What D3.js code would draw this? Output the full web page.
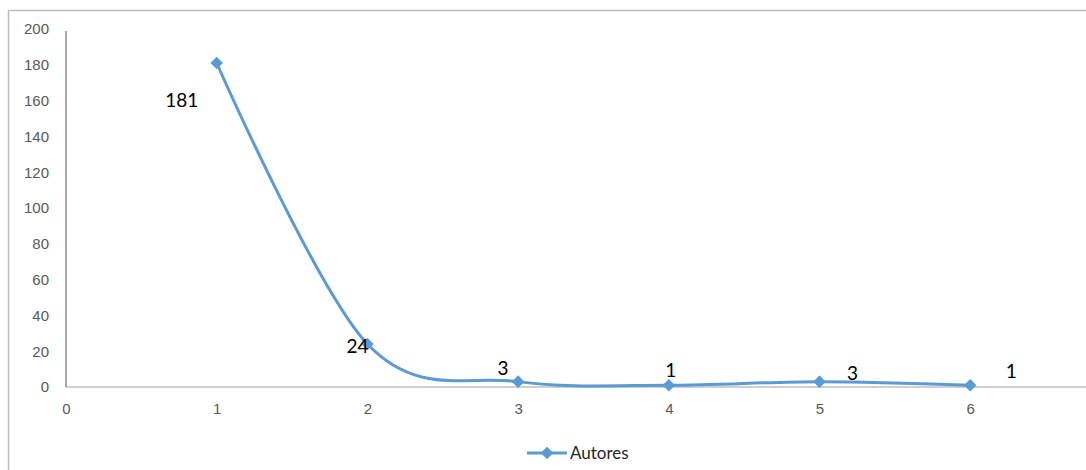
<!DOCTYPE html>
<html>
<head>
<meta charset="utf-8">
<script src="https://cdn.jsdelivr.net/npm/d3@7"></script>
<style>
  body { margin: 0; background: #fff; }
  svg { display: block; font-family: Lato, "Open Sans", sans-serif; }
</style>
</head>
<body>
<svg id="chart"></svg>
<script>
// data
const xValues = [1, 2, 3, 4, 5, 6];
const autores = [181, 24, 3, 1, 3, 1];
const labels = ["181", "24", "3", "1", "3", "1"];
const yTicks = [0, 20, 40, 60, 80, 100, 120, 140, 160, 180, 200];
const xTicks = [0, 1, 2, 3, 4, 5, 6];
const seriesName = "Autores";

// label offsets (Excel placement)
const labelOffsets = [[-35, 44], [-10, 9], [-15, -7], [2, -8], [33, -2], [41, -7]];

const width = 1086, height = 470;
const margin = {top: 29, left: 66, bottom: 387};
const blue = "#5B9BD5";

const svg = d3.select("#chart")
    .attr("width", width)
    .attr("height", height);

// outer chart border
svg.append("rect")
    .attr("x", 8.5).attr("y", 10.5)
    .attr("width", 1100).attr("height", 500)
    .attr("fill", "none")
    .attr("stroke", "#bdbdbd")
    .attr("stroke-width", 1.5);

const x = d3.scaleLinear()
    .domain([0, 7])
    .range([margin.left, margin.left + 7 * 150.7]);

const y = d3.scaleLinear()
    .domain([0, 200])
    .range([margin.bottom, margin.top]);

// x axis
const xAxis = svg.append("g")
    .attr("transform", `translate(0,${margin.bottom})`)
    .call(d3.axisBottom(x).tickValues(xTicks).tickSize(0).tickPadding(16).tickFormat(d3.format("d")));
xAxis.select(".domain").attr("stroke", "#cfcfcf").attr("stroke-width", 2)
    .attr("d", `M${margin.left},0H${width}`);
xAxis.selectAll("text").attr("fill", "#595959").style("font-size", "15px");

// y axis
const yAxis = svg.append("g")
    .attr("transform", `translate(${margin.left},0)`)
    .call(d3.axisLeft(y).tickValues(yTicks).tickSize(0).tickPadding(17));
yAxis.select(".domain").attr("stroke", "#8c8c8c").attr("stroke-width", 1.5)
    .attr("d", `M0,${y(200) + 2}V${margin.bottom}`);
yAxis.selectAll("text").attr("fill", "#595959").style("font-size", "15px");

const data = xValues.map((v, i) => ({x: v, y: autores[i], label: labels[i], off: labelOffsets[i]}));

const line = d3.line()
    .x(d => x(d.x))
    .y(d => y(d.y))
    .curve(d3.curveCatmullRom.alpha(0));

svg.append("path")
    .datum(data)
    .attr("fill", "none")
    .attr("stroke", blue)
    .attr("stroke-width", 3)
    .attr("d", line);

const diamond = d3.symbol().type(d3.symbolDiamond2).size(100);

svg.selectAll(".marker")
    .data(data)
    .join("path")
    .attr("class", "marker")
    .attr("transform", d => `translate(${x(d.x)},${y(d.y)})`)
    .attr("d", diamond)
    .attr("fill", blue);

svg.selectAll(".dlabel")
    .data(data)
    .join("text")
    .attr("class", "dlabel")
    .attr("x", d => x(d.x) + d.off[0])
    .attr("y", d => y(d.y) + d.off[1])
    .attr("text-anchor", "middle")
    .attr("fill", "#000")
    .style("font-size", "19px")
    .text(d => d.label);

// legend
const lg = svg.append("g").attr("transform", "translate(527,453)");
lg.append("line").attr("x1", 0).attr("x2", 40).attr("y1", 0).attr("y2", 0)
    .attr("stroke", blue).attr("stroke-width", 3);
lg.append("path").attr("transform", "translate(20,0)").attr("d", diamond).attr("fill", blue);
lg.append("text").attr("x", 43).attr("y", 6).attr("fill", "#262626")
    .style("font-size", "17px").text(seriesName);
</script>
</body>
</html>
